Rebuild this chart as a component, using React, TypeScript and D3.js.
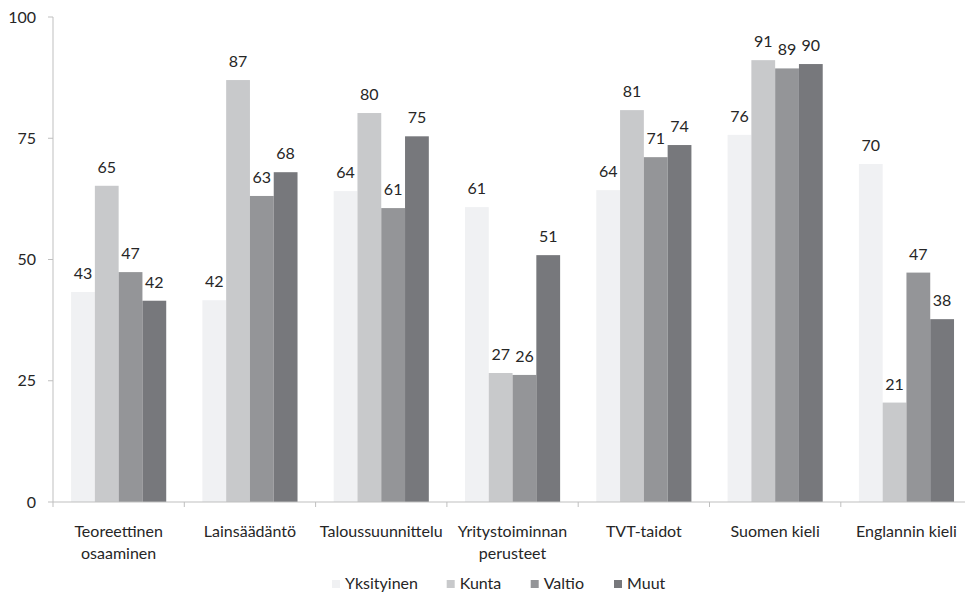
import * as d3 from 'd3';
import { useEffect, useRef } from 'react';

const categories = [
  ['Teoreettinen', 'osaaminen'],
  ['Lainsäädäntö'],
  ['Taloussuunnittelu'],
  ['Yritystoiminnan', 'perusteet'],
  ['TVT-taidot'],
  ['Suomen kieli'],
  ['Englannin kieli'],
];
const seriesNames = ['Yksityinen', 'Kunta', 'Valtio', 'Muut'];
const seriesColors = ['#f0f1f3', '#c8c9cb', '#949598', '#77787c'];

const yksityinen = [43.3, 41.6, 64.1, 60.8, 64.3, 75.7, 69.7];
const kunta = [65.2, 87.0, 80.2, 26.6, 80.8, 91.1, 20.5];
const valtio = [47.4, 63.1, 60.6, 26.2, 71.1, 89.4, 47.3];
const muut = [41.5, 68.0, 75.4, 50.9, 73.6, 90.3, 37.7];
const yTicks = [0, 25, 50, 75, 100];

const FONT = 'Lato, "Open Sans", sans-serif';
const TEXT = '#262626';

export default function App() {
  const svgRef = useRef<SVGSVGElement>(null);

  useEffect(() => {
    const svg = d3.select(svgRef.current);
    svg.selectAll('*').remove();

    const width = 965;
    const height = 592;
    const left = 53;
    const top = 17;
    const bottom = 502;
    const step = 131.3;
    const fs = 16;

    const series = [yksityinen, kunta, valtio, muut];

    const y = d3.scaleLinear().domain([0, 100]).range([bottom, top]);
    const x = d3.scaleBand<number>()
      .domain(d3.range(categories.length))
      .range([left, left + step * categories.length])
      .paddingInner(0)
      .paddingOuter(0);
    const inner = d3.scaleBand<number>()
      .domain(d3.range(series.length))
      .range([0, x.bandwidth()])
      .paddingOuter(0.76)
      .paddingInner(0);

    svg.attr('width', width).attr('height', height);

    // bars + value labels
    series.forEach((vals, s) => {
      svg.append('g')
        .selectAll('rect')
        .data(vals)
        .join('rect')
        .attr('x', (_, i) => x(i)! + inner(s)!)
        .attr('y', d => y(d))
        .attr('width', inner.bandwidth())
        .attr('height', d => bottom - y(d))
        .attr('fill', seriesColors[s]);

      svg.append('g')
        .selectAll('text')
        .data(vals)
        .join('text')
        .attr('x', (_, i) => x(i)! + inner(s)! + inner.bandwidth() / 2)
        .attr('y', d => y(d) - 13)
        .attr('text-anchor', 'middle')
        .attr('font-family', FONT)
        .attr('font-size', fs)
        .attr('fill', TEXT)
        .text(d => Math.round(d));
    });

    // y axis
    const axisColor = '#bfbfbf';
    svg.append('line')
      .attr('x1', left).attr('x2', left)
      .attr('y1', top).attr('y2', bottom)
      .attr('stroke', axisColor);
    yTicks.forEach(t => {
      svg.append('line')
        .attr('x1', left - 5).attr('x2', left)
        .attr('y1', y(t)).attr('y2', y(t))
        .attr('stroke', axisColor);
      svg.append('text')
        .attr('x', 36)
        .attr('y', y(t) + 5.5)
        .attr('text-anchor', 'end')
        .attr('font-family', FONT)
        .attr('font-size', fs)
        .attr('fill', TEXT)
        .text(t);
    });

    // x axis
    svg.append('line')
      .attr('x1', left).attr('x2', width)
      .attr('y1', bottom).attr('y2', bottom)
      .attr('stroke', axisColor);
    d3.range(categories.length + 1).forEach(i => {
      const xx = left + step * i;
      svg.append('line')
        .attr('x1', xx).attr('x2', xx)
        .attr('y1', bottom).attr('y2', bottom + 5)
        .attr('stroke', axisColor);
    });

    categories.forEach((lines, i) => {
      const cx = x(i)! + x.bandwidth() / 2;
      const t = svg.append('text')
        .attr('x', cx)
        .attr('y', 537)
        .attr('text-anchor', 'middle')
        .attr('font-family', FONT)
        .attr('font-size', fs)
        .attr('fill', TEXT);
      lines.forEach((l, j) => {
        t.append('tspan')
          .attr('x', cx)
          .attr('dy', j === 0 ? 0 : 22)
          .text(l);
      });
    });

    // legend
    const legendX = [332, 446.7, 530.7, 614];
    seriesNames.forEach((name, s) => {
      svg.append('rect')
        .attr('x', legendX[s]).attr('y', 580)
        .attr('width', 8).attr('height', 8)
        .attr('fill', seriesColors[s]);
      svg.append('text')
        .attr('x', legendX[s] + 13)
        .attr('y', 589)
        .attr('font-family', FONT)
        .attr('font-size', fs)
        .attr('fill', TEXT)
        .text(name);
    });
  }, []);

  return (
    <svg
      ref={svgRef}
      style={{ position: 'absolute', left: 0, top: 0, background: '#fff' }}
    />
  );
}
